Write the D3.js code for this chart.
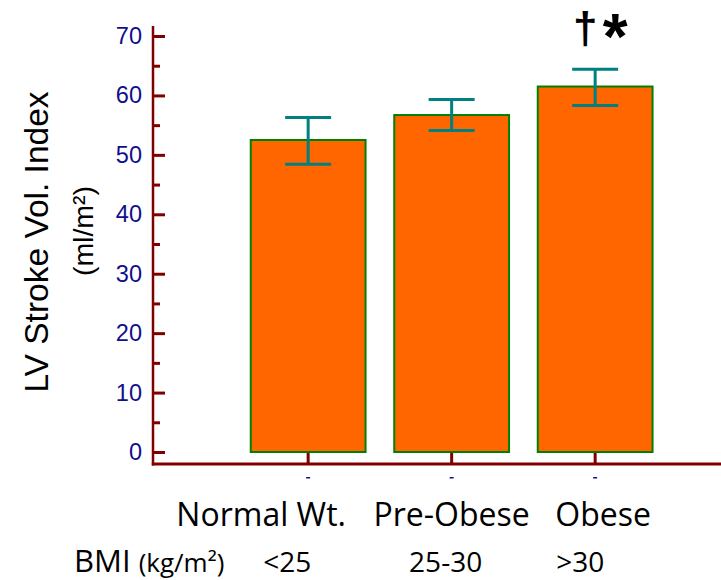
<!DOCTYPE html>
<meta charset="utf-8">
<title>LV Stroke Volume Index by BMI</title>
<style>

body {
  margin: 0;
  background: #fff;
}

.axis text {
  font: 23.5px "Liberation Sans", Arial, sans-serif;
  fill: #10108a;
}

.axis line {
  stroke: #800000;
  stroke-width: 3;
}

.bar {
  fill: #ff6600;
  stroke: #008000;
  stroke-width: 2;
}

.err {
  stroke: #008080;
  stroke-width: 3;
  fill: none;
}

.cat {
  font: 32px "Open Sans", sans-serif;
  fill: #000;
  text-anchor: middle;
}

</style>
<svg width="721" height="580"></svg>
<script src="https://d3js.org/d3.v7.min.js"></script>
<script>

var groups = ["Normal Wt.", "Pre-Obese", "Obese"],
    bmiRanges = ["<25", "25-30", ">30"],
    means = [52.5, 56.7, 61.5],
    errLow = [48.4, 54.1, 58.3],
    errHigh = [56.3, 59.3, 64.4],
    yTicks = [0, 10, 20, 30, 40, 50, 60, 70],
    yMinorTicks = [5, 15, 25, 35, 45, 55, 65];

var svg = d3.select("svg");

var x = d3.scaleBand()
    .domain(groups)
    .range([236.4, 666.9])
    .paddingInner(0.2)
    .paddingOuter(0.1);

var y = d3.scaleLinear()
    .domain([0, 70])
    .range([452, 36]);

// minor ticks first, then the labelled ones
svg.append("g")
    .attr("class", "axis")
    .attr("transform", "translate(153,0)")
    .call(d3.axisLeft(y).tickValues(yMinorTicks).tickSizeInner(-7).tickSizeOuter(0).tickFormat(""))
    .call(function(g) { g.select(".domain").remove(); });

svg.append("g")
    .attr("class", "axis")
    .attr("transform", "translate(153,0)")
    .call(d3.axisLeft(y).tickValues(yTicks).tickSizeInner(-12).tickSizeOuter(0).tickPadding(11))
    .call(function(g) { g.select(".domain").remove(); });

var xAxis = svg.append("g")
    .attr("class", "axis")
    .attr("transform", "translate(0,464)")
    .call(d3.axisBottom(x).tickSizeInner(-12).tickSizeOuter(0).tickFormat(""))
    .call(function(g) { g.select(".domain").remove(); });

// the clipped stubs of the old tick labels
xAxis.selectAll(".tick").append("rect")
    .attr("x", -2)
    .attr("y", 13)
    .attr("width", 4)
    .attr("height", 1.5)
    .attr("fill", "#10108a");

// axis lines
svg.append("line")
    .attr("x1", 153).attr("x2", 153)
    .attr("y1", 26).attr("y2", 465.5)
    .attr("stroke", "#800000")
    .attr("stroke-width", 2.5);

svg.append("line")
    .attr("x1", 151.8).attr("x2", 721)
    .attr("y1", 464).attr("y2", 464)
    .attr("stroke", "#800000")
    .attr("stroke-width", 3);

svg.selectAll(".bar")
    .data(groups)
  .enter().append("rect")
    .attr("class", "bar")
    .attr("x", function(d) { return x(d); })
    .attr("y", function(d, i) { return y(means[i]); })
    .attr("width", x.bandwidth())
    .attr("height", function(d, i) { return y(0) - y(means[i]); });

svg.selectAll(".err")
    .data(groups)
  .enter().append("path")
    .attr("class", "err")
    .attr("d", function(d, i) {
      var cx = x(d) + x.bandwidth() / 2, lo = y(errLow[i]), hi = y(errHigh[i]);
      return "M" + (cx - 23) + "," + hi + "H" + (cx + 23) +
             "M" + cx + "," + hi + "V" + lo +
             "M" + (cx - 23) + "," + lo + "H" + (cx + 23);
    });

// significance marks over the obese bar
var cObese = x("Obese") + x.bandwidth() / 2;

svg.append("text")
    .attr("x", cObese - 10)
    .attr("y", 43)
    .attr("text-anchor", "middle")
    .style("font", "bold 44px 'Liberation Sans', sans-serif")
    .text("\u2020");

svg.append("text")
    .attr("x", cObese + 20)
    .attr("y", 59)
    .attr("text-anchor", "middle")
    .style("font", "bold 64px 'Liberation Sans', sans-serif")
    .text("*");

// y axis title
svg.append("text")
    .attr("transform", "translate(48,242) rotate(-90)")
    .attr("text-anchor", "middle")
    .style("font", "33.5px 'Liberation Sans', sans-serif")
    .text("LV Stroke Vol. Index");

svg.append("text")
    .attr("transform", "translate(93,231) rotate(-90)")
    .attr("text-anchor", "middle")
    .style("font", "28.5px 'Liberation Sans', sans-serif")
    .text("(ml/m\u00b2)");

// category labels
var labelShift = [-47, 0, 8];

svg.selectAll(".cat")
    .data(groups)
  .enter().append("text")
    .attr("class", "cat")
    .attr("x", function(d, i) { return x(d) + x.bandwidth() / 2 + labelShift[i]; })
    .attr("y", 526)
    .text(function(d) { return d; });

var bmiShift = [-21, -6, -15];

svg.selectAll(".bmi")
    .data(bmiRanges)
  .enter().append("text")
    .attr("class", "cat bmi")
    .attr("x", function(d, i) { return x(groups[i]) + x.bandwidth() / 2 + bmiShift[i]; })
    .attr("y", 572)
    .style("font-size", "28px")
    .text(function(d) { return d; });

var bmiTitle = svg.append("text")
    .attr("x", 74)
    .attr("y", 572)
    .style("font", "31px 'Open Sans', sans-serif");

bmiTitle.append("tspan").text("BMI ");
bmiTitle.append("tspan").style("font-size", "26px").text("(kg/m\u00b2)");

</script>
